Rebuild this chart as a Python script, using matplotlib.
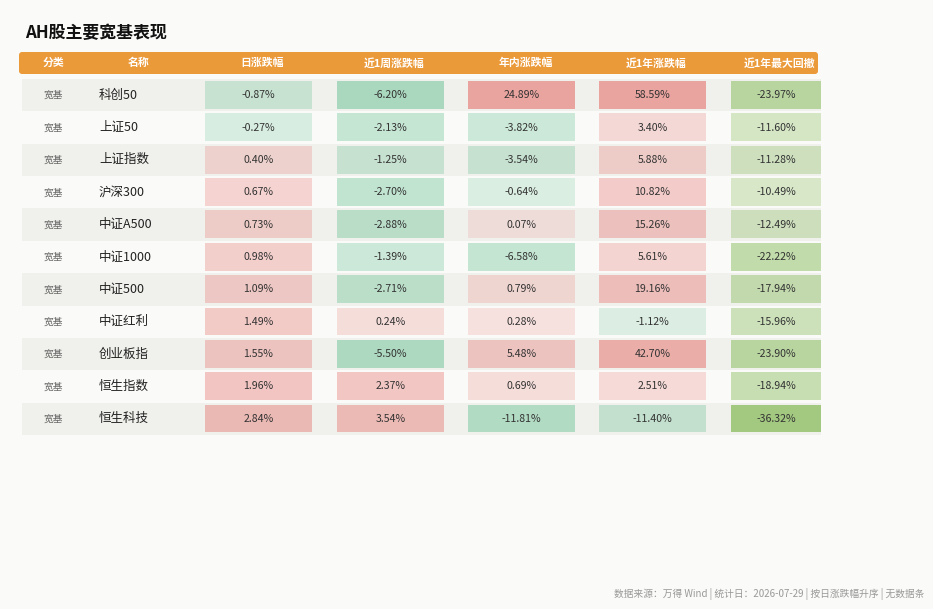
import numpy as np
import matplotlib.pyplot as plt
from matplotlib.patches import Rectangle, FancyBboxPatch

plt.rcParams['font.family'] = ['Noto Sans CJK SC', 'DejaVu Sans']

# --- dados ---
categorias = ["宽基"] * 11
nomes = ["科创50", "上证50", "上证指数", "沪深300", "中证A500", "中证1000",
         "中证500", "中证红利", "创业板指", "恒生指数", "恒生科技"]
diario = [-0.87, -0.27, 0.40, 0.67, 0.73, 0.98, 1.09, 1.49, 1.55, 1.96, 2.84]
semana = [-6.20, -2.13, -1.25, -2.70, -2.88, -1.39, -2.71, 0.24, -5.50, 2.37, 3.54]
ano_atual = [24.89, -3.82, -3.54, -0.64, 0.07, -6.58, 0.79, 0.28, 5.48, 0.69, -11.81]
um_ano = [58.59, 3.40, 5.88, 10.82, 15.26, 5.61, 19.16, -1.12, 42.70, 2.51, -11.40]
drawdown = [-23.97, -11.60, -11.28, -10.49, -12.49, -22.22, -17.94, -15.96, -23.90, -18.94, -36.32]

cabecalho = ["分类", "名称", "日涨跌幅", "近1周涨跌幅", "年内涨跌幅", "近1年涨跌幅", "近1年最大回撤"]
titulo = "AH股主要宽基表现"
rodape = "数据来源：万得 Wind | 统计日：2026-07-29 | 按日涨跌幅升序 | 无数据条"

colunas = [diario, semana, ano_atual, um_ano, drawdown]

# --- layout (pixels) ---
W, H = 933, 609
bg = "#FAFAF8"
row_top = 79
row_h = 32.36
cell_x = [(205, 312), (337, 444), (468, 575), (599, 706), (731, 821)]
escalas = [7, 9, 25, 60, 40]
vermelho = "#E8837E"
verde = "#5EBF8C"
verde_dd = "#7FB850"


def alpha_cor(v, j):
    # intensidade da célula conforme magnitude
    if j == 4:
        t = min(abs(v) / escalas[j], 1.0)
        return verde_dd, 0.12 + 0.62 * t
    t = np.sqrt(min(abs(v) / escalas[j], 1.0))
    if v > 0:
        return vermelho, 0.15 + 0.55 * t
    return verde, 0.13 + 0.42 * t


fig = plt.figure(figsize=(W / 100, H / 100), dpi=100, facecolor=bg)
ax = fig.add_axes([0, 0, 1, 1])
ax.set_xlim(0, W)
ax.set_ylim(H, 0)
ax.axis("off")

ax.text(25, 33, titulo, fontsize=12.2, fontweight="heavy", color="#111111",
        ha="left", va="center")

# cabeçalho
ax.add_patch(FancyBboxPatch((19, 52), 799, 22, boxstyle="round,pad=0,rounding_size=3",
                            facecolor="#EB9A3A", edgecolor="none"))
hx = [53, 139] + [(a + b) / 2 + 4 for a, b in cell_x]
for x, lab in zip(hx, cabecalho):
    ax.text(x, 63, lab, fontsize=7.8, fontweight="bold", color="white",
            ha="center", va="center")

for i in range(len(nomes)):
    y0 = row_top + i * row_h
    yc = y0 + row_h / 2
    faixa = "#F0F0EC" if i % 2 == 0 else "#FAFAF8"
    ax.add_patch(Rectangle((22, y0), 799, row_h, facecolor=faixa, edgecolor="none"))
    ax.text(53, yc, categorias[i], fontsize=7, color="#666666", ha="center", va="center")
    ax.text(99, yc, nomes[i], fontsize=9, color="#222222", ha="left", va="center")
    for j, col in enumerate(colunas):
        v = col[i]
        cor, a = alpha_cor(v, j)
        x0, x1 = cell_x[j]
        ax.add_patch(Rectangle((x0, y0 + 2), x1 - x0, row_h - 4.5, facecolor=cor,
                               alpha=a, edgecolor="none"))
        ax.text((x0 + x1) / 2, yc, f"{v:.2f}%", fontsize=7.6, color="#333333",
                ha="center", va="center")

ax.text(924, 594, rodape, fontsize=7, color="#999999", ha="right", va="center")

fig.savefig("out.png", dpi=100, facecolor=bg)
